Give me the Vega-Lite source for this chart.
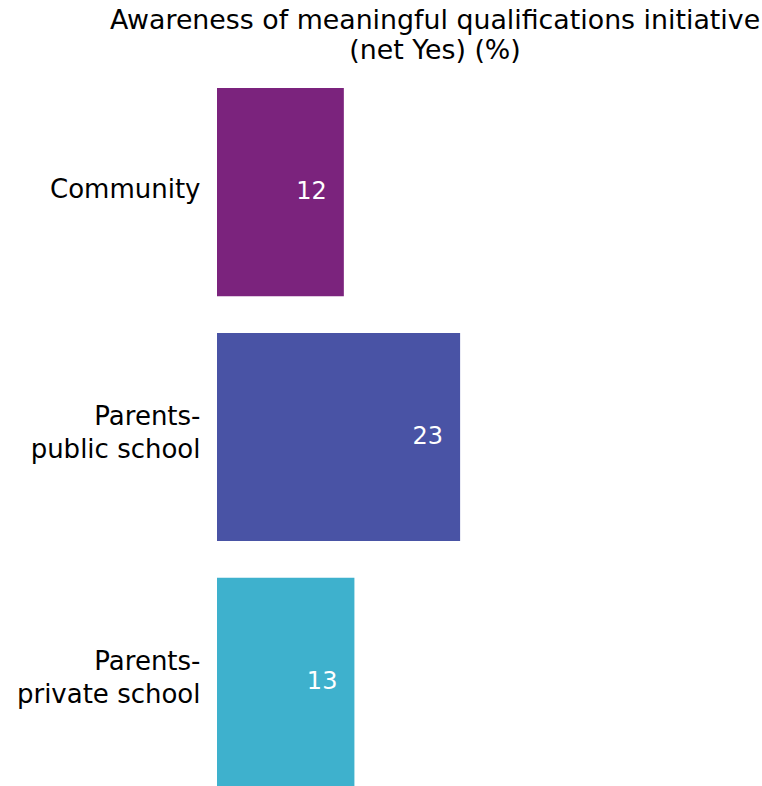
{
  "$schema": "https://vega.github.io/schema/vega-lite/v6.json",
  "autosize": "none",
  "padding": {"left": 217, "top": 88, "right": 0, "bottom": 0},
  "width": 545,
  "height": 698,
  "background": "white",
  "data": {"values": [
    {"group": "Community", "value": 12},
    {"group": "Parents-|public school", "value": 23},
    {"group": "Parents-|private school", "value": 13}
  ]},
  "title": {
    "text": ["Awareness of meaningful qualifications initiative", "(net Yes) (%)"],
    "font": "DejaVu Sans",
    "fontSize": 26.8,
    "fontWeight": "normal",
    "color": "black",
    "anchor": "middle",
    "dx": -54.5,
    "lineHeight": 30,
    "offset": 23
  },
  "config": {"view": {"stroke": null}},
  "encoding": {
    "y": {
      "field": "group", "type": "nominal", "sort": null,
      "scale": {"paddingInner": 0.15, "paddingOuter": 0},
      "axis": {
        "title": null, "domain": false, "ticks": false,
        "labelFont": "DejaVu Sans", "labelFontSize": 26, "labelColor": "black",
        "labelPadding": 17, "labelLineHeight": 33, "labelLimit": 300,
        "labelOffset": {"condition": {"test": "indexof(datum.value, '|') >= 0", "value": -20}, "value": -2},
        "labelExpr": "split(datum.label, '|')"
      }
    },
    "x": {
      "field": "value", "type": "quantitative",
      "scale": {"domain": [0, 51.56]},
      "axis": null
    }
  },
  "layer": [
    {
      "mark": {"type": "bar"},
      "encoding": {
        "color": {
          "field": "group", "type": "nominal", "legend": null,
          "scale": {"domain": ["Community", "Parents-|public school", "Parents-|private school"],
                    "range": ["#7B237D", "#4953A5", "#3EB1CD"]}
        }
      }
    },
    {
      "mark": {"type": "text", "align": "right", "baseline": "middle", "dx": -17, "color": "white", "font": "DejaVu Sans", "fontSize": 24},
      "encoding": {"text": {"field": "value", "type": "quantitative"}}
    }
  ]
}
